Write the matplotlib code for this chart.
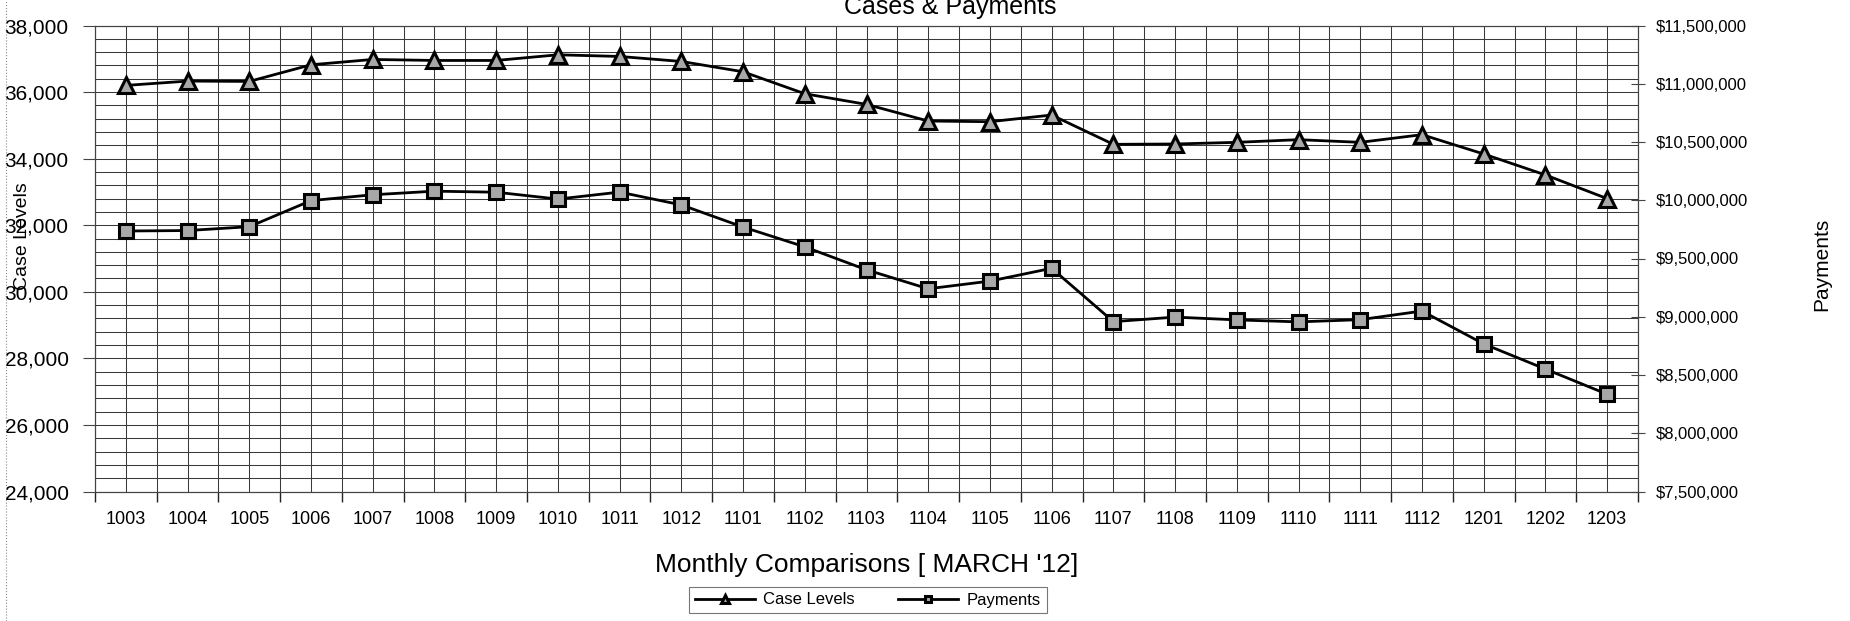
import matplotlib.pyplot as plt
import numpy as np
from matplotlib.lines import Line2D
from matplotlib.ticker import FuncFormatter, MultipleLocator

plt.rcParams["font.family"] = ["Liberation Sans", "DejaVu Sans"]

months = ["1003", "1004", "1005", "1006", "1007", "1008", "1009", "1010", "1011",
          "1012", "1101", "1102", "1103", "1104", "1105", "1106", "1107", "1108",
          "1109", "1110", "1111", "1112", "1201", "1202", "1203"]
case_levels = [36200, 36330, 36320, 36820, 36980, 36950, 36950, 37120, 37070,
               36920, 36610, 35950, 35630, 35130, 35110, 35310, 34430, 34440,
               34490, 34570, 34490, 34720, 34140, 33510, 32800]
payments = [9736000, 9740000, 9773000, 9997000, 10047000, 10078000, 10069000,
            10010000, 10070000, 9960000, 9770000, 9600000, 9403000, 9240000,
            9306000, 9416000, 8958000, 8997000, 8973000, 8956000, 8975000,
            9049000, 8767000, 8551000, 8335000]

W, H = 1850, 621
fig = plt.figure(figsize=(W / 100, H / 100), dpi=100)
ax = fig.add_axes([95 / W, 1 - 491.5 / H, (1638 - 95) / W, (491.5 - 25.5) / H])
ax2 = ax.twinx()

x = np.arange(len(months))
l1, = ax.plot(x, case_levels, color="black", lw=2, marker="^", markersize=11,
              markerfacecolor="#a8a8a8", markeredgecolor="black", markeredgewidth=2.2,
              zorder=5, label="Case Levels")
l2, = ax2.plot(x, payments, color="black", lw=2, marker="s", markersize=10,
               markerfacecolor="#a8a8a8", markeredgecolor="black", markeredgewidth=2.2,
               zorder=5, label="Payments")

ax.set_xlim(-0.5, len(months) - 0.5)
ax.set_ylim(24000, 38000)
ax2.set_ylim(7500000, 11500000)

ax.set_xticks(x)
ax.set_xticklabels(months, fontsize=13)
ax.set_xticks(np.arange(-0.5, len(months), 1.0), minor=True)
ax.tick_params(axis="x", which="major", length=0, pad=14)
ax.tick_params(axis="x", which="minor", length=7, width=1, color="#222222")

ax.yaxis.set_major_locator(MultipleLocator(2000))
ax.yaxis.set_minor_locator(MultipleLocator(400))
ax.yaxis.set_major_formatter(FuncFormatter(lambda v, p: f"{v:,.0f}"))
ax.tick_params(axis="y", which="major", labelsize=15, length=9, pad=10, color="#444444")
ax.tick_params(axis="y", which="minor", length=0)

ax2.yaxis.set_major_locator(MultipleLocator(500000))
ax2.yaxis.set_major_formatter(FuncFormatter(lambda v, p: f"${v:,.0f}"))
ax2.tick_params(axis="y", labelsize=12, direction="inout", length=10, pad=8, color="#444444")

ax.grid(True, which="both", axis="both", color="#3a3a3a", lw=0.75)
ax.set_axisbelow(True)
for a in (ax, ax2):
    for s in a.spines.values():
        s.set_color("#444444")
        s.set_linewidth(0.8)

ax.set_xlabel("Monthly Comparisons [ MARCH '12]", fontsize=19, labelpad=18)
fig.text(23 / W, 1 - 236 / H, "Case Levels", rotation=90, fontsize=14,
         ha="center", va="center")
fig.text(1822 / W, 1 - 264 / H, "Payments", rotation=90, fontsize=15,
         ha="center", va="center")
fig.text(950 / W, 1 - 14 / H, "Cases & Payments", fontsize=18,
         ha="center", va="baseline")

leg = fig.legend([l1, l2], ["Case Levels", "Payments"], loc="center",
                 bbox_to_anchor=(868 / W, 1 - 600 / H), ncol=2, fontsize=12,
                 frameon=True, fancybox=False, edgecolor="#555555",
                 handlelength=3.6, markerscale=0.5, columnspacing=2.6,
                 borderpad=0.35, borderaxespad=0, handletextpad=0.5)
leg.get_frame().set_linewidth(0.8)

# scanned page border on the left
fig.add_artist(Line2D([6 / W, 6 / W], [0, 1], transform=fig.transFigure,
                      color="#888888", lw=0.8, ls=":"))

fig.savefig("out.png", dpi=100)
